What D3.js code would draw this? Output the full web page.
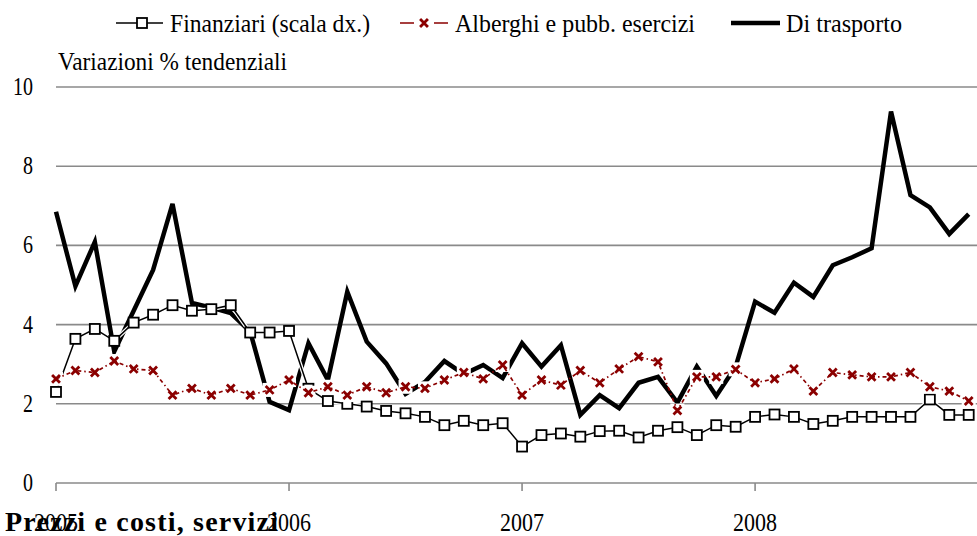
<!DOCTYPE html>
<html><head><meta charset="utf-8">
<script src="https://cdn.jsdelivr.net/npm/d3@7"></script>
<style>
html,body{margin:0;padding:0;background:#fff;}
text{font-family:"Liberation Serif","Times New Roman",serif;fill:#000;}
</style></head>
<body><svg id="chart" width="977" height="536" font-family="Liberation Serif, Times New Roman, serif"></svg>
<script>
const years = ["2005","2006","2007","2008"];
const yTicks = [0,2,4,6,8,10];
const seriesNames = ["Finanziari (scala dx.)","Alberghi e pubb. esercizi","Di trasporto"];
const finanziari = [2.3,3.64,3.89,3.59,4.05,4.25,4.49,4.35,4.39,4.49,3.8,3.8,3.84,2.38,2.07,2.0,1.93,1.82,1.76,1.67,1.46,1.57,1.46,1.51,0.92,1.21,1.25,1.17,1.31,1.32,1.15,1.32,1.41,1.21,1.46,1.42,1.67,1.73,1.67,1.49,1.57,1.67,1.67,1.67,1.67,2.11,1.72,1.72];
const alberghi = [2.63,2.84,2.79,3.08,2.88,2.84,2.22,2.39,2.22,2.39,2.22,2.35,2.6,2.28,2.43,2.22,2.43,2.28,2.43,2.39,2.6,2.79,2.63,2.98,2.22,2.6,2.47,2.84,2.53,2.88,3.19,3.06,1.83,2.68,2.68,2.87,2.53,2.63,2.88,2.32,2.79,2.73,2.68,2.68,2.79,2.43,2.32,2.07];
const trasporto = [6.85,4.97,6.09,3.32,4.35,5.38,7.05,4.55,4.43,4.29,3.82,2.05,1.84,3.53,2.6,4.83,3.57,3.02,2.25,2.55,3.08,2.75,2.98,2.65,3.53,2.94,3.48,1.72,2.22,1.89,2.53,2.68,2.03,2.94,2.2,2.94,4.58,4.3,5.06,4.7,5.5,5.7,5.93,9.38,7.27,6.96,6.29,6.79];

const svg = d3.select("#chart");
const x = d3.scaleLinear().domain([0,47]).range([56,968.7]);
const y = d3.scaleLinear().domain([0,10]).range([483,87]);
const red = "#8b0000";
const FS = 25;

// gridlines
svg.append("g").selectAll("line").data(yTicks).join("line")
  .attr("x1",56).attr("x2",977).attr("y1",d=>y(d)).attr("y2",d=>y(d))
  .attr("stroke","#8a8a8a").attr("stroke-width",1.6);
// y labels
svg.append("g").selectAll("text").data(yTicks).join("text")
  .attr("x",33).attr("y",d=>y(d)+8).attr("text-anchor","end")
  .attr("font-size",FS).attr("textLength",d=>String(d).length*10)
  .attr("lengthAdjust","spacingAndGlyphs").text(d=>d);
// x ticks
svg.append("g").selectAll("line").data(years).join("line")
  .attr("x1",(d,i)=>x(i*12)).attr("x2",(d,i)=>x(i*12))
  .attr("y1",483).attr("y2",491).attr("stroke","#8a8a8a").attr("stroke-width",1.6);
svg.append("g").selectAll("text").data(years).join("text")
  .attr("x",(d,i)=>x(i*12)-22).attr("y",531)
  .attr("font-size",FS).attr("textLength",44).attr("lengthAdjust","spacingAndGlyphs").text(d=>d);

svg.append("text").attr("x",58).attr("y",70).attr("font-size",FS)
  .attr("textLength",229).attr("lengthAdjust","spacingAndGlyphs").text("Variazioni % tendenziali");

const line = d3.line().x((d,i)=>x(i)).y(d=>y(d));

// Di trasporto
svg.append("path").datum(trasporto).attr("d",line).attr("fill","none")
  .attr("stroke","#000").attr("stroke-width",4.5).attr("stroke-linejoin","miter");

// Finanziari
svg.append("path").datum(finanziari).attr("d",line).attr("fill","none")
  .attr("stroke","#fff").attr("stroke-width",4);
svg.append("path").datum(finanziari).attr("d",line).attr("fill","none")
  .attr("stroke","#000").attr("stroke-width",1.5);
svg.append("g").selectAll("rect").data(finanziari).join("rect")
  .attr("x",(d,i)=>x(i)-5).attr("y",d=>y(d)-5).attr("width",10).attr("height",10)
  .attr("fill","#fff").attr("stroke","#000").attr("stroke-width",1.8);

// Alberghi
svg.append("g").selectAll("rect").data(alberghi).join("rect")
  .attr("x",(d,i)=>x(i)-7).attr("y",d=>y(d)-7).attr("width",14).attr("height",14)
  .attr("fill","#fff");
svg.append("path").datum(alberghi).attr("d",line).attr("fill","none")
  .attr("stroke",red).attr("stroke-width",1.7).attr("stroke-dasharray","4,3,1.5,3");
const xs = d3.symbol().type(d3.symbolTimes).size(42);
svg.append("g").selectAll("path").data(alberghi).join("path")
  .attr("transform",(d,i)=>`translate(${x(i)},${y(d)})`).attr("d",xs)
  .attr("fill","none").attr("stroke",red).attr("stroke-width",2.8);

// legend
const lg = svg.append("g");
const LY = 23, LB = 31.5;
lg.append("line").attr("x1",116).attr("x2",163).attr("y1",LY).attr("y2",LY).attr("stroke","#000").attr("stroke-width",1.5);
lg.append("rect").attr("x",137).attr("y",LY-5).attr("width",10).attr("height",10).attr("fill","#fff").attr("stroke","#000").attr("stroke-width",1.8);
lg.append("text").attr("x",170).attr("y",LB).attr("font-size",FS)
  .attr("textLength",200).attr("lengthAdjust","spacingAndGlyphs").text(seriesNames[0]);
lg.append("line").attr("x1",400).attr("x2",448).attr("y1",LY).attr("y2",LY).attr("stroke",red).attr("stroke-width",1.7).attr("stroke-dasharray","14,20");
lg.append("path").attr("transform",`translate(424,${LY})`).attr("d",xs).attr("fill","none").attr("stroke",red).attr("stroke-width",2.8);
lg.append("text").attr("x",455).attr("y",LB).attr("font-size",FS)
  .attr("textLength",240).attr("lengthAdjust","spacingAndGlyphs").text(seriesNames[1]);
lg.append("line").attr("x1",731).attr("x2",780).attr("y1",LY).attr("y2",LY).attr("stroke","#000").attr("stroke-width",4.5);
lg.append("text").attr("x",786).attr("y",LB).attr("font-size",FS)
  .attr("textLength",116).attr("lengthAdjust","spacingAndGlyphs").text(seriesNames[2]);

// title (overlaps the 2005 label, as in the reference)
svg.append("text").attr("x",5).attr("y",531).attr("font-size",28).attr("font-weight","bold")
  .attr("textLength",273).attr("lengthAdjust","spacing").text("Prezzi e costi, servizi");
</script></body></html>
